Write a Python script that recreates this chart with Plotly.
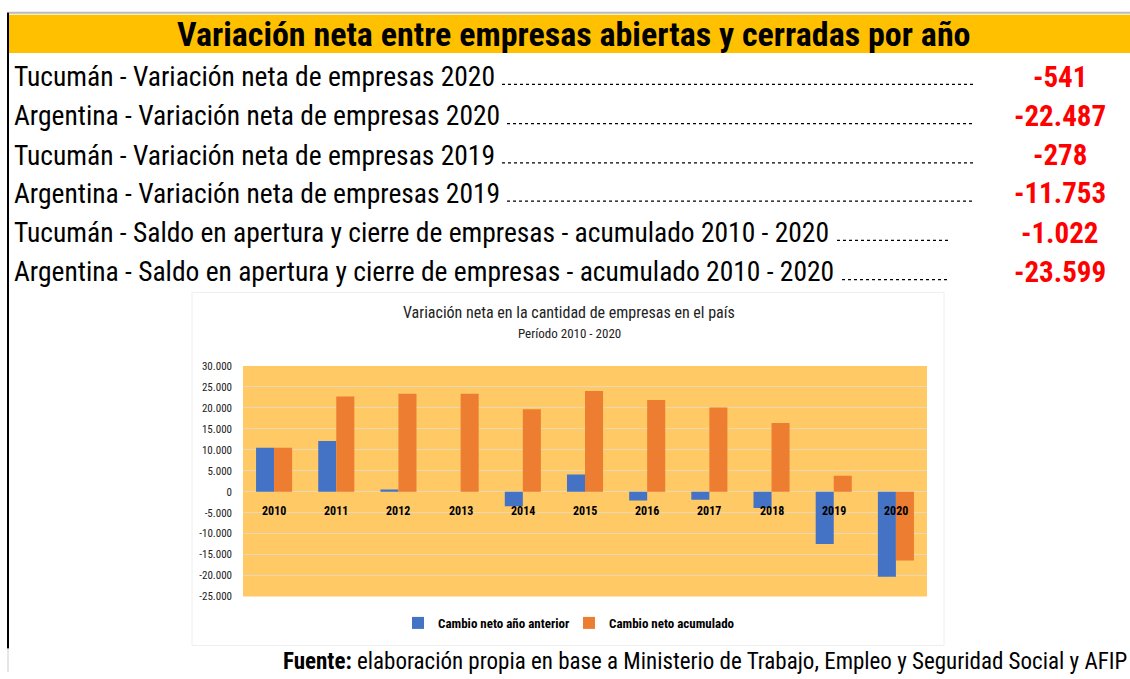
import plotly.graph_objects as go

W, H = 1130, 679

years = ["2010", "2011", "2012", "2013", "2014", "2015", "2016", "2017", "2018", "2019", "2020"]
cambio_anual = [10500, 12100, 550, 0, -3500, 4100, -2100, -1900, -3900, -12500, -20300]
cambio_acumulado = [10500, 22700, 23400, 23400, 19700, 24000, 21900, 20100, 16400, 3800, -16400]

tick_vals = [30000, 25000, 20000, 15000, 10000, 5000, 0, -5000, -10000, -15000, -20000, -25000]
tick_text = ["30.000", "25.000", "20.000", "15.000", "10.000", "5.000", "0",
             "-5.000", "-10.000", "-15.000", "-20.000", "-25.000"]

row_labels = [
    "Tucumán - Variación neta de empresas 2020",
    "Argentina - Variación neta de empresas 2020",
    "Tucumán - Variación neta de empresas 2019",
    "Argentina - Variación neta de empresas 2019",
    "Tucumán - Saldo en apertura y cierre de empresas - acumulado 2010 - 2020",
    "Argentina - Saldo en apertura y cierre de empresas - acumulado 2010 - 2020",
]
row_values = ["-541", "-22.487", "-278", "-11.753", "-1.022", "-23.599"]

NARROW = "Liberation Sans Narrow, Arial Narrow, Roboto Condensed, sans-serif"


def px(x):
    return x / W


def py(y):
    return 1 - y / H


fig = go.Figure()
fig.add_trace(go.Bar(x=years, y=cambio_anual, name="<b>Cambio neto año anterior</b>",
                     marker=dict(color="#4472C4", line=dict(width=0))))
fig.add_trace(go.Bar(x=years, y=cambio_acumulado, name="<b>Cambio neto acumulado</b>",
                     marker=dict(color="#ED7D31", line=dict(width=0))))

fig.update_layout(
    width=W, height=H,
    margin=dict(l=0, r=0, t=0, b=0),
    paper_bgcolor="white",
    plot_bgcolor="#FFC966",
    barmode="group", bargap=0.42, bargroupgap=0,
    font=dict(family=NARROW, color="black"),
    xaxis=dict(type="category", categoryorder="array", categoryarray=years,
               range=[-0.5, len(years) - 0.5], autorange=False,
               domain=[px(243), px(927)], showticklabels=False, showgrid=False,
               zeroline=False, showline=False, ticks=""),
    yaxis=dict(domain=[py(602), py(367)], range=[-25000, 30000], autorange=False,
               tickvals=tick_vals, ticktext=tick_text,
               tickfont=dict(family=NARROW, size=11, color="#222"),
               showgrid=True, gridcolor="#E9D8B4", gridwidth=1,
               zeroline=True, zerolinecolor="#E9D8B4", zerolinewidth=1,
               showline=False, ticks="", ticklabelstandoff=10),
    legend=dict(orientation="h", x=px(398), y=py(629), xanchor="left", yanchor="middle",
                font=dict(family=NARROW, size=13, color="black"),
                itemwidth=30, entrywidth=126, entrywidthmode="pixels",
                bgcolor="rgba(0,0,0,0)"),
    showlegend=True,
)

ann = []
# category labels next to zero line (x given as category index)
for i, yr in enumerate(years):
    ann.append(dict(x=i, y=0, xref="x", yref="y", text="<b>" + yr + "</b>", showarrow=False,
                    yanchor="middle", yshift=-19, font=dict(family=NARROW, size=12, color="black")))

# header title
ann.append(dict(x=px(574), y=py(29), xref="paper", yref="paper",
                text="<b>Variación neta entre empresas abiertas y cerradas por año</b>",
                showarrow=False, xanchor="center", yanchor="middle",
                font=dict(family=NARROW, size=34, color="black")))

row_y = [72, 112, 152, 191, 231, 271]
dot_end = [975, 975, 975, 975, 950, 950]
dot_start = [502, 507, 502, 507, 837, 842]
for lab, val, yy in zip(row_labels, row_values, row_y):
    ann.append(dict(x=px(12), y=py(yy), xref="paper", yref="paper", text=lab, showarrow=False,
                    xanchor="left", yanchor="middle", font=dict(family=NARROW, size=27.5, color="black")))
    ann.append(dict(x=px(1060), y=py(yy), xref="paper", yref="paper", text="<b>" + val + "</b>",
                    showarrow=False, xanchor="center", yanchor="middle",
                    font=dict(family=NARROW, size=29, color="#FF0000")))

# chart title
ann.append(dict(x=px(569), y=py(312), xref="paper", yref="paper",
                text="Variación neta en la cantidad de empresas en el país", showarrow=False,
                xanchor="center", yanchor="middle", font=dict(family=NARROW, size=16, color="#222")))
ann.append(dict(x=px(569), y=py(334), xref="paper", yref="paper",
                text="Período 2010 - 2020", showarrow=False,
                xanchor="center", yanchor="middle", font=dict(family=NARROW, size=13, color="#222")))

# footer
ann.append(dict(x=px(1129), y=py(668), xref="paper", yref="paper",
                text="<b>Fuente:</b> elaboración propia en base a Ministerio de Trabajo, Empleo y Seguridad Social y AFIP",
                showarrow=False, xanchor="right", yanchor="middle",
                font=dict(family=NARROW, size=23, color="black")))

shapes = [
    # yellow header bar
    dict(type="rect", xref="paper", yref="paper", x0=px(9), x1=1, y0=py(48), y1=py(9),
         fillcolor="#FFC000", line=dict(width=0), layer="below"),
    # top gray border
    dict(type="line", xref="paper", yref="paper", x0=px(7), x1=1, y0=py(7), y1=py(7),
         line=dict(color="#BBBBBB", width=2)),
    # left black border
    dict(type="line", xref="paper", yref="paper", x0=px(8), x1=px(8), y0=py(7), y1=py(655),
         line=dict(color="black", width=2)),
    dict(type="line", xref="paper", yref="paper", x0=px(8), x1=px(8), y0=py(655), y1=py(679),
         line=dict(color="#CCCCCC", width=1)),
    # chart border (faint)
    dict(type="rect", xref="paper", yref="paper", x0=px(192), x1=px(944), y0=py(652), y1=py(292),
         line=dict(color="#EEEEEE", width=1), layer="below"),
]
for yy, x0, x1 in zip(row_y, dot_start, dot_end):
    shapes.append(dict(type="line", xref="paper", yref="paper", x0=px(x0), x1=px(x1),
                       y0=py(yy + 8), y1=py(yy + 8),
                       line=dict(color="black", width=1.3, dash="dot")))

fig.update_layout(annotations=ann, shapes=shapes)
fig.write_html("out.html", config={"displayModeBar": False},
               post_script="document.body.style.margin='0';document.body.style.overflow='hidden';")
